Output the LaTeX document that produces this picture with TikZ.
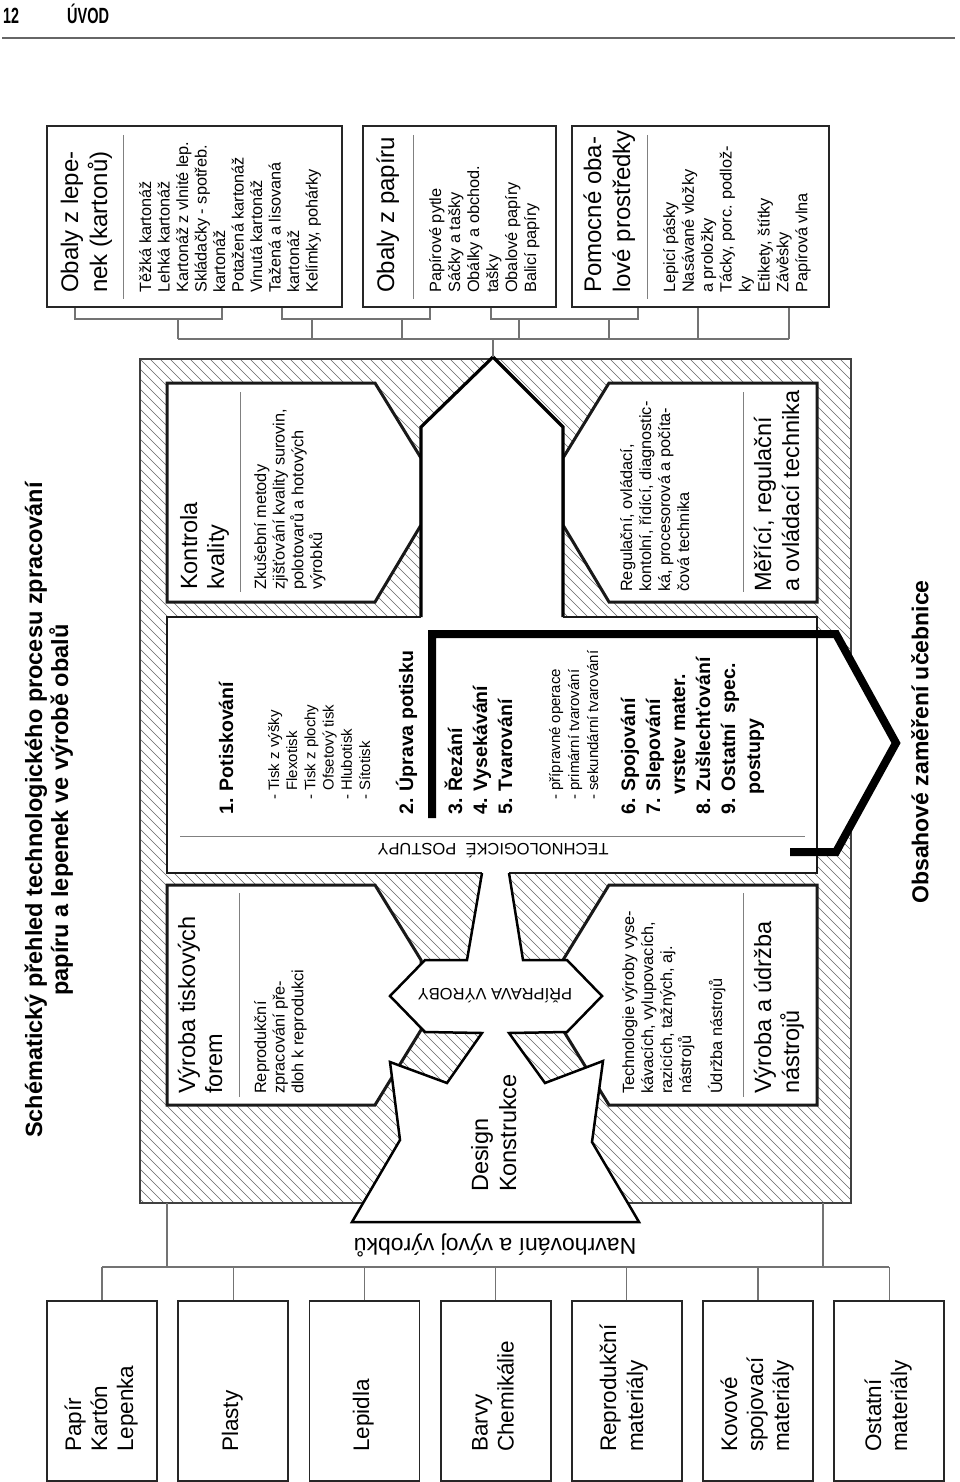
\documentclass[tikz,border=0pt]{standalone}
\usepackage{fontspec}
\setmainfont{Liberation Sans}
\usepackage{graphicx}
\newcommand\fs[2]{\fontsize{#1}{#2}\selectfont}
\begin{document}
\begin{tikzpicture}[x=1pt,y=-1pt,
  conn/.style={draw=black!55,line width=1.1pt},
  obox/.style={draw=black!85,line width=1.8pt,fill=white,inner sep=0pt},
  ibox/.style={draw=black!90,line width=3pt,fill=white,line join=miter},
  sepl/.style={draw=black!50,line width=0.8pt},
  hatchl/.style={draw=black!60,line width=0.5pt},
  rl/.style={rotate=90,anchor=base west,inner sep=0pt},
  hd/.style={rl,font=\fs{23.5}{28}},
  bd/.style={rl,font=\fs{16.3}{19}},
  itm/.style={rl,font=\bfseries\fs{19.5}{24}},
  sbi/.style={rl,font=\fs{15}{18}},
  mt/.style={rl,font=\fs{22.5}{26}},
]
\useasboundingbox (0,0) rectangle (960,1482);
\fill[white] (0,0) rectangle (960,1482);

% header
\node[anchor=base west,inner sep=0pt,font=\bfseries\fs{22}{24}] (pg) at (3,24) {\scalebox{0.65}[1]{12}};
\node[anchor=base west,inner sep=0pt,font=\bfseries\fs{22}{24}] (uvod) at (67,24) {\scalebox{0.66}[1]{ÚVOD}};
\draw[draw=black!60,line width=2pt] (2,38.5) -- (955,38.5);

% title
\node[rotate=90,anchor=base,inner sep=0pt,font=\bfseries\fs{23.5}{28}] (ti1) at (42,810) {Schématický přehled technologického procesu zpracování};
\node[rotate=90,anchor=base,inner sep=0pt,font=\bfseries\fs{23.5}{28}] (ti2) at (68,810) {papíru a lepenek ve výrobě obalů};

% hatch
\begin{scope}
\clip (140,359) rectangle (851,1203);
\foreach \c in {-710,-700,...,850} \draw[hatchl] (\c,359) -- ++(844,844);
\end{scope}
\draw[draw=black!75,line width=1.5pt] (140,359) rectangle (851,1203);

% inner boxes
\draw[ibox] (167,383) -- (375,383) -- (421,458) -- (421,525) -- (375,602) -- (167,602) -- cycle;
\draw[ibox] (609,383) -- (817,383) -- (817,602) -- (609,602) -- (563,525) -- (563,458) -- cycle;
\draw[ibox] (167,885) -- (375,885) -- (421,960) -- (421,1030) -- (375,1105) -- (167,1105) -- cycle;
\draw[ibox] (609,885) -- (817,885) -- (817,1105) -- (609,1105) -- (563,1030) -- (563,960) -- cycle;

% central white region
\fill[white] (493,357) -- (563,427) -- (563,617) -- (817,617) -- (817,873) -- (509,873)
  -- (523,960) -- (567,960) -- (602,996) -- (567,1032) -- (509,1033) -- (545,1083)
  -- (603,1061) -- (592,1142) -- (639,1222) -- (352,1222) -- (400,1140) -- (390,1062)
  -- (447,1083) -- (482,1033) -- (425,1032) -- (390,996) -- (425,960) -- (467,960)
  -- (482,873) -- (167,873) -- (167,617) -- (421,617) -- (421,427) -- cycle;
\fill[white] (817,638) -- (836,638) -- (894,743) -- (836,848) -- (817,848) -- cycle;

% central edges
\draw[line width=3.2pt,line join=miter] (421,617) -- (421,427) -- (493,357) -- (563,427) -- (563,617);
\draw[line width=2pt,draw=black!90] (482,873) -- (167,873) -- (167,617) -- (421,617);
\draw[line width=1.6pt,draw=black!90] (563,617) -- (817,617) -- (817,873) -- (509,873);
\draw[line width=2.5pt,line join=miter] (482,873) -- (467,960) -- (425,960) -- (390,996) -- (425,1032) -- (482,1033)
  -- (447,1083) -- (390,1062) -- (400,1140) -- (352,1222) -- (639,1222) -- (592,1142) -- (603,1061)
  -- (545,1083) -- (509,1033) -- (567,1032) -- (602,996) -- (567,960) -- (523,960) -- (509,873);

% thick arrow line
\draw[line width=8pt,line join=miter,miter limit=10] (432,818) -- (432,634) -- (836,634) -- (896,743) -- (836,852) -- (790,852);

% separators
\draw[sepl] (240,392) -- (240,592);
\draw[sepl] (743,392) -- (743,592);
\draw[sepl] (239,893) -- (239,1097);
\draw[sepl] (743,893) -- (743,1097);
\draw[sepl] (180,836) -- (805,836);

% Kontrola kvality
\node[hd] (kk1) at (197,590) {Kontrola};
\node[hd] (kk2) at (224,590) {kvality};
\foreach \t [count=\i from 0] in {{Zkušební metody},{zjišťování kvality surovin,},{polotovarů a hotových},{výrobků}}
  \node[bd] (kb\i) at ({266+18.7*\i},590) {\t};

% Meric
\node[hd] (mr1) at (771,592) {Měřící, regulační};
\node[hd] (mr2) at (799,592) {a ovládací technika};
\foreach \t [count=\i from 0] in {{Regulační, ovládací,},{kontolní, řídící, diagnostic-},{ká, procesorová a počíta-},{čová technika}}
  \node[bd] (mb\i t) at ({632+19*\i},592) {\t};

% Vyroba tiskovych forem
\node[hd] (vf1) at (195,1094) {Výroba tiskových};
\node[hd] (vf2) at (222,1094) {forem};
\foreach \t [count=\i from 0] in {{Reprodukční},{zpracování pře-},{dloh k reprodukci}}
  \node[bd] (vb\i) at ({266+18.7*\i},1094) {\t};

% Vyroba nastroju
\foreach \t [count=\i from 0] in {{Technologie výroby vyse-},{kávacích, vylupovacích,},{razicích, tažných, aj.},{nástrojů}}
  \node[bd] (nb\i) at ({634+19*\i},1094) {\t};
\node[bd] (nb4) at (722,1094) {Údržba nástrojů};
\node[hd] (nv1) at (771,1094) {Výroba a údržba};
\node[hd] (nv2) at (799,1094) {nástrojů};

% Technologicke postupy list
\node[itm] (i1) at (233,815) {1. Potiskování};
\foreach \t [count=\i from 0] in {{- Tisk z výšky},{\phantom{- }Flexotisk},{- Tisk z plochy},{\phantom{- }Ofsetový tisk},{- Hlubotisk},{- Sítotisk}}
  \node[sbi] (s1\i) at ({279+18.2*\i},800) {\t};
\node[itm] (i2) at (413,815) {2. Úprava potisku};
\node[itm] (i3) at (462,815) {3. Řezání};
\node[itm] (i4) at (487,815) {4. Vysekávání};
\node[itm] (i5) at (512,815) {5. Tvarování};
\foreach \t [count=\i from 0] in {{- přípravné operace},{- primární tvarování},{- sekundární tvarování}}
  \node[sbi] (s5\i) at ({560+19*\i},800) {\t};
\node[itm] (i6) at (635,815) {6. Spojování};
\node[itm] (i7) at (660,815) {7. Slepování};
\node[itm] (i7b) at (685,795) {vrstev mater.};
\node[itm] (i8) at (710,815) {8. Zušlechťování};
\node[itm] (i9) at (735,815) {9. Ostatní\ \ spec.};
\node[itm] (i9b) at (760,795) {postupy};

\node[rotate=180,inner sep=0pt,font=\fs{16.5}{19}] (tp) at (493,851) {TECHNOLOGICKÉ\ \ POSTUPY};
\node[rotate=180,inner sep=0pt,font=\fs{16.5}{19}] (pv) at (495,996) {PŘÍPRAVA VÝROBY};
\node[hd] (ds1) at (488,1192) {Design};
\node[hd] (ds2) at (516,1192) {Konstrukce};
\node[rotate=180,inner sep=0pt,font=\fs{23}{27}] (nv) at (495,1245) {Navrhování a vývoj výrobků};
\node[rotate=90,inner sep=0pt,font=\bfseries\fs{23}{28}] (obs) at (920,742) {Obsahové zaměření učebnice};

% top boxes
\node[obox,minimum width=295pt,minimum height=181pt] (ob1) at (194.5,216.5) {};
\node[obox,minimum width=193pt,minimum height=181pt] (ob2) at (459.5,216.5) {};
\node[obox,minimum width=257pt,minimum height=181pt] (ob3) at (700.5,216.5) {};
\draw[sepl] (123,135) -- (123,299);
\draw[sepl] (413,135) -- (413,299);
\draw[sepl] (647,135) -- (647,299);
\node[hd,font=\fs{24}{28}] (o1h1) at (78,293) {Obaly z lepe-};
\node[hd,font=\fs{24}{28}] (o1h2) at (107,293) {nek (kartonů)};
\foreach \t [count=\i from 0] in {{Těžká kartonáž},{Lehká kartonáž},{Kartonáž z vlnité lep.},{Skládačky - spotřeb.},{kartonáž},{Potažená kartonáž},{Vinutá kartonáž},{Tažená a lisovaná},{kartonáž},{Kelímky, pohárky}}
  \node[bd] (o1b\i) at ({151+18.5*\i},293) {\t};
\node[hd,font=\fs{24}{28}] (o2h1) at (394,293) {Obaly z papíru};
\foreach \t [count=\i from 0] in {{Papírové pytle},{Sáčky a tašky},{Obálky a obchod.},{tašky},{Obalové papíry},{Balicí papíry}}
  \node[bd] (o2b\i) at ({441+19*\i},293) {\t};
\node[hd,font=\fs{24}{28}] (o3h1) at (601,293) {Pomocné oba-};
\node[hd,font=\fs{24}{28}] (o3h2) at (630,293) {lové prostředky};
\foreach \t [count=\i from 0] in {{Lepicí pásky},{Nasávané vložky},{a proložky},{Tácky, porc. podlož-},{ky},{Etikety, štítky},{Závěsky},{Papírová vlna}}
  \node[bd] (o3b\i) at ({675+18.9*\i},293) {\t};

% top connectors
\coordinate (tip) at (493,357);
\coordinate (tA1) at (75,319); \coordinate (tA2) at (222,319); \coordinate (tAd) at (178,319);
\coordinate (tB1) at (282,319); \coordinate (tB2) at (430,319); \coordinate (tBd1) at (312,319); \coordinate (tBd2) at (402,319);
\coordinate (tD1) at (491,319); \coordinate (tD2) at (638,319); \coordinate (tDd1) at (519,319); \coordinate (tDd2) at (609,319);
\coordinate (bus1) at (178,339); \coordinate (bus2) at (789,339);
\coordinate (tE1) at (698,339);
\draw[conn] (ob1.south -| tA1) -- (tA1) -- (tA2) -- (ob1.south -| tA2);
\draw[conn] (ob1.south -| tB1) -- (tB1) -- (tB2) -- (ob2.south -| tB2);
\draw[conn] (ob2.south -| tD1) -- (tD1) -- (tD2) -- (ob3.south -| tD2);
\draw[conn] (tAd) -- (tAd |- bus1);
\draw[conn] (tBd1) -- (tBd1 |- bus1);
\draw[conn] (tBd2) -- (tBd2 |- bus1);
\draw[conn] (tDd1) -- (tDd1 |- bus1);
\draw[conn] (tDd2) -- (tDd2 |- bus1);
\draw[conn] (ob3.south -| tE1) -- (tE1);
\draw[conn] (ob3.south -| bus2) -- (bus2);
\draw[conn] (bus1) -- (bus2);
\draw[conn] (tip |- bus1) -- (tip);

% bottom boxes
\foreach \i in {0,...,6}
  \node[obox,minimum width=110pt,minimum height=180pt] (mb\i) at ({102+131.2*\i},1391) {};
\coordinate (bb1) at (102,1267); \coordinate (bb2) at (889.2,1267);
\coordinate (fl) at (167,1203); \coordinate (fr) at (823,1203);
\draw[conn] (bb1) -- (bb2);
\foreach \i in {0,...,6} \draw[conn] (mb\i.north) -- (mb\i.north |- bb1);
\draw[conn] (fl) -- (fl |- bb1);
\draw[conn] (fr) -- (fr |- bb1);

\node[mt] (m0a) at (81,1452) {Papír};
\node[mt] (m0b) at (107,1452) {Kartón};
\node[mt] (m0c) at (133,1452) {Lepenka};
\node[mt] (m1a) at (238,1452) {Plasty};
\node[mt] (m2a) at (369,1452) {Lepidla};
\node[mt] (m3a) at (487.6,1452) {Barvy};
\node[mt] (m3b) at (513.6,1452) {Chemikálie};
\node[mt] (m4a) at (616,1452) {Reprodukční};
\node[mt] (m4b) at (643,1452) {materiály};
\node[mt] (m5a) at (737,1452) {Kovové};
\node[mt] (m5b) at (763,1452) {spojovací};
\node[mt] (m5c) at (789,1452) {materiály};
\node[mt] (m6a) at (881,1452) {Ostatní};
\node[mt] (m6b) at (907,1452) {materiály};
\end{tikzpicture}
\end{document}
